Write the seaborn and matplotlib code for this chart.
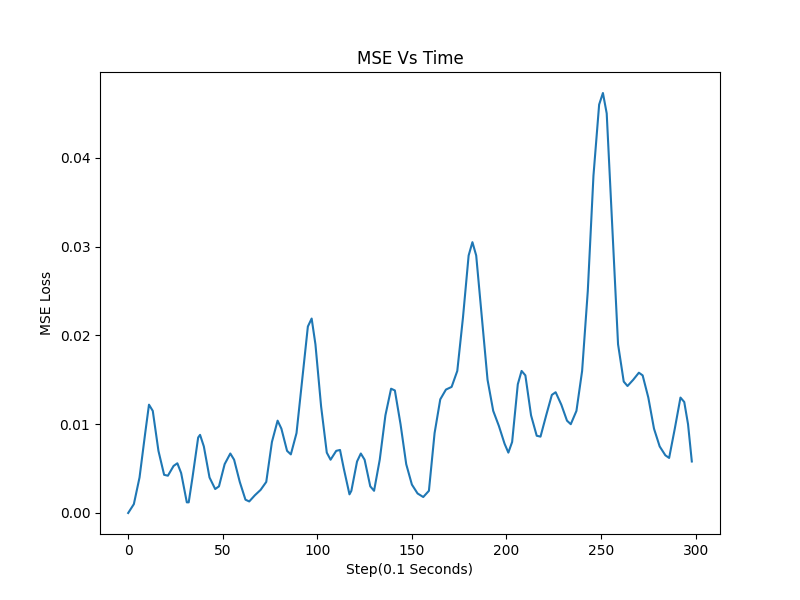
import matplotlib
matplotlib.use("Agg")
import matplotlib.pyplot as plt
import seaborn as sns
import pandas as pd

steps = [0,3,6,9,11,13,16,19,21,24,26,28,31,32,34,37,38,40,43,46,48,51,54,56,59,62,64,67,70,73,76,79,81,84,86,89,92,95,97,99,102,105,107,110,112,114,117,118,121,123,125,128,130,133,136,139,141,144,147,150,153,156,159,162,165,168,171,174,177,180,182,184,187,190,193,196,199,201,203,206,208,210,213,216,218,221,224,226,229,232,234,237,240,243,246,249,251,253,256,259,262,264,267,270,272,275,278,281,284,286,289,292,294,296,298]
loss = [0.0,0.001,0.004,0.009,0.0122,0.0115,0.007,0.0043,0.0042,0.0053,0.0056,0.0045,0.0012,0.0012,0.004,0.0085,0.0088,0.0075,0.004,0.0027,0.003,0.0055,0.0067,0.006,0.0035,0.0015,0.0013,0.002,0.0026,0.0035,0.008,0.0104,0.0095,0.007,0.0066,0.009,0.015,0.021,0.0219,0.019,0.012,0.0068,0.006,0.007,0.0071,0.005,0.0021,0.0025,0.0058,0.0067,0.006,0.003,0.0025,0.006,0.011,0.014,0.0138,0.01,0.0055,0.0032,0.0022,0.0018,0.0025,0.009,0.0128,0.0139,0.0142,0.016,0.022,0.029,0.0305,0.029,0.022,0.015,0.0115,0.0098,0.0078,0.0068,0.008,0.0145,0.016,0.0155,0.011,0.0087,0.0086,0.011,0.0133,0.0136,0.0122,0.0104,0.01,0.0115,0.016,0.025,0.038,0.046,0.0473,0.045,0.032,0.019,0.0148,0.0143,0.015,0.0158,0.0155,0.013,0.0095,0.0075,0.0065,0.0062,0.0095,0.013,0.0125,0.01,0.0058]

df = pd.DataFrame({"step": steps, "loss": loss})
fig, ax = plt.subplots(figsize=(8, 6), dpi=100)
sns.lineplot(data=df, x="step", y="loss", ax=ax, color="#1f77b4", linewidth=1.5)
ax.set_title("MSE Vs Time")
ax.set_xlabel("Step(0.1 Seconds)")
ax.set_ylabel("MSE Loss")
fig.savefig("out.png")
